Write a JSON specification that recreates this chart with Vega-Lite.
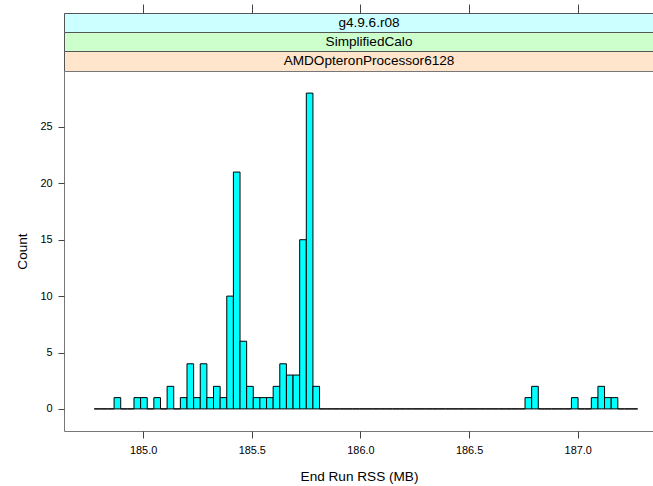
{
  "$schema": "https://vega.github.io/schema/vega-lite/v6.json",
  "padding": {"left": 15, "top": 3, "right": 0, "bottom": 0},
  "background": "white",
  "config": {
    "font": "Liberation Sans",
    "axis": {"grid": false, "domain": false, "tickColor": "#444444", "labelColor": "black", "titleColor": "black", "titleFontWeight": "normal"}
  },
  "spacing": 0,
  "bounds": "flush",
  "vconcat": [
    {
      "width": 590, "height": 19,
      "view": {"fill": "#ccffff", "stroke": "#555555", "strokeWidth": 1},
      "data": {"values": [{"label": "g4.9.6.r08"}]},
      "mark": {"type": "text", "fontSize": 13.6, "color": "black", "dx": 10},
      "encoding": {"text": {"field": "label", "type": "nominal"}}
    },
    {
      "width": 590, "height": 19,
      "view": {"fill": "#ccffcc", "stroke": "#555555", "strokeWidth": 1},
      "data": {"values": [{"label": "SimplifiedCalo"}]},
      "mark": {"type": "text", "fontSize": 13.6, "color": "black", "dx": 10},
      "encoding": {"text": {"field": "label", "type": "nominal"}}
    },
    {
      "width": 590, "height": 20,
      "view": {"fill": "#ffe5cc", "stroke": "#555555", "strokeWidth": 1},
      "data": {"values": [{"label": "AMDOpteronProcessor6128"}]},
      "mark": {"type": "text", "fontSize": 13.6, "color": "black", "dx": 10},
      "encoding": {"text": {"field": "label", "type": "nominal"}}
    },
    {
      "width": 590, "height": 360,
      "view": {"fill": "white", "stroke": "#777777", "strokeWidth": 1},
      "data": {"values": [
        {"start": 184.7750, "end": 184.8055, "count": 0},
        {"start": 184.8055, "end": 184.8360, "count": 0},
        {"start": 184.8360, "end": 184.8665, "count": 0},
        {"start": 184.8665, "end": 184.8970, "count": 1},
        {"start": 184.8970, "end": 184.9275, "count": 0},
        {"start": 184.9275, "end": 184.9580, "count": 0},
        {"start": 184.9580, "end": 184.9885, "count": 1},
        {"start": 184.9885, "end": 185.0190, "count": 1},
        {"start": 185.0190, "end": 185.0495, "count": 0},
        {"start": 185.0495, "end": 185.0800, "count": 1},
        {"start": 185.0800, "end": 185.1105, "count": 0},
        {"start": 185.1105, "end": 185.1410, "count": 2},
        {"start": 185.1410, "end": 185.1715, "count": 0},
        {"start": 185.1715, "end": 185.2020, "count": 1},
        {"start": 185.2020, "end": 185.2325, "count": 4},
        {"start": 185.2325, "end": 185.2630, "count": 1},
        {"start": 185.2630, "end": 185.2935, "count": 4},
        {"start": 185.2935, "end": 185.3240, "count": 1},
        {"start": 185.3240, "end": 185.3545, "count": 2},
        {"start": 185.3545, "end": 185.3850, "count": 1},
        {"start": 185.3850, "end": 185.4155, "count": 10},
        {"start": 185.4155, "end": 185.4460, "count": 21},
        {"start": 185.4460, "end": 185.4765, "count": 6},
        {"start": 185.4765, "end": 185.5070, "count": 2},
        {"start": 185.5070, "end": 185.5375, "count": 1},
        {"start": 185.5375, "end": 185.5680, "count": 1},
        {"start": 185.5680, "end": 185.5985, "count": 1},
        {"start": 185.5985, "end": 185.6290, "count": 2},
        {"start": 185.6290, "end": 185.6595, "count": 4},
        {"start": 185.6595, "end": 185.6900, "count": 3},
        {"start": 185.6900, "end": 185.7205, "count": 3},
        {"start": 185.7205, "end": 185.7510, "count": 15},
        {"start": 185.7510, "end": 185.7815, "count": 28},
        {"start": 185.7815, "end": 185.8120, "count": 2},
        {"start": 185.8120, "end": 185.8425, "count": 0},
        {"start": 185.8425, "end": 185.8730, "count": 0},
        {"start": 185.8730, "end": 185.9035, "count": 0},
        {"start": 185.9035, "end": 185.9340, "count": 0},
        {"start": 185.9340, "end": 185.9645, "count": 0},
        {"start": 185.9645, "end": 185.9950, "count": 0},
        {"start": 185.9950, "end": 186.0255, "count": 0},
        {"start": 186.0255, "end": 186.0560, "count": 0},
        {"start": 186.0560, "end": 186.0865, "count": 0},
        {"start": 186.0865, "end": 186.1170, "count": 0},
        {"start": 186.1170, "end": 186.1475, "count": 0},
        {"start": 186.1475, "end": 186.1780, "count": 0},
        {"start": 186.1780, "end": 186.2085, "count": 0},
        {"start": 186.2085, "end": 186.2390, "count": 0},
        {"start": 186.2390, "end": 186.2695, "count": 0},
        {"start": 186.2695, "end": 186.3000, "count": 0},
        {"start": 186.3000, "end": 186.3305, "count": 0},
        {"start": 186.3305, "end": 186.3610, "count": 0},
        {"start": 186.3610, "end": 186.3915, "count": 0},
        {"start": 186.3915, "end": 186.4220, "count": 0},
        {"start": 186.4220, "end": 186.4525, "count": 0},
        {"start": 186.4525, "end": 186.4830, "count": 0},
        {"start": 186.4830, "end": 186.5135, "count": 0},
        {"start": 186.5135, "end": 186.5440, "count": 0},
        {"start": 186.5440, "end": 186.5745, "count": 0},
        {"start": 186.5745, "end": 186.6050, "count": 0},
        {"start": 186.6050, "end": 186.6355, "count": 0},
        {"start": 186.6355, "end": 186.6660, "count": 0},
        {"start": 186.6660, "end": 186.6965, "count": 0},
        {"start": 186.6965, "end": 186.7270, "count": 0},
        {"start": 186.7270, "end": 186.7575, "count": 0},
        {"start": 186.7575, "end": 186.7880, "count": 1},
        {"start": 186.7880, "end": 186.8185, "count": 2},
        {"start": 186.8185, "end": 186.8490, "count": 0},
        {"start": 186.8490, "end": 186.8795, "count": 0},
        {"start": 186.8795, "end": 186.9100, "count": 0},
        {"start": 186.9100, "end": 186.9405, "count": 0},
        {"start": 186.9405, "end": 186.9710, "count": 0},
        {"start": 186.9710, "end": 187.0015, "count": 1},
        {"start": 187.0015, "end": 187.0320, "count": 0},
        {"start": 187.0320, "end": 187.0625, "count": 0},
        {"start": 187.0625, "end": 187.0930, "count": 1},
        {"start": 187.0930, "end": 187.1235, "count": 2},
        {"start": 187.1235, "end": 187.1540, "count": 1},
        {"start": 187.1540, "end": 187.1845, "count": 1},
        {"start": 187.1845, "end": 187.2150, "count": 0},
        {"start": 187.2150, "end": 187.2455, "count": 0},
        {"start": 187.2455, "end": 187.2760, "count": 0}
      ]},
      "layer": [
        {
          "mark": {"type": "rect", "fill": "#00ffff", "stroke": "black", "strokeWidth": 1},
          "encoding": {
            "x": {"field": "start", "type": "quantitative",
                  "scale": {"domain": [184.636, 187.351], "nice": false, "zero": false},
                  "axis": {"orient": "bottom", "values": [185, 185.5, 186, 186.5, 187], "format": ".1f",
                           "tickSize": 7, "labelPadding": 6, "labelFontSize": 10.9,
                           "title": "End Run RSS (MB)", "titleFontSize": 13.6, "titlePadding": 15}},
            "x2": {"field": "end"},
            "y": {"field": "count", "type": "quantitative",
                  "scale": {"domain": [-1.96, 29.96], "nice": false, "zero": false},
                  "axis": {"values": [0, 5, 10, 15, 20, 25], "tickSize": 6, "labelPadding": 6, "labelFontSize": 10.9,
                           "title": "Count", "titleFontSize": 13.6, "titlePadding": 10}},
            "y2": {"datum": 0}
          }
        },
        {
          "mark": {"type": "point", "opacity": 0},
          "encoding": {
            "x": {"field": "start", "type": "quantitative",
                  "scale": {"domain": [184.636, 187.351], "nice": false, "zero": false},
                  "axis": {"orient": "top", "offset": 58, "labels": false, "tickSize": 9,
                           "values": [185, 185.5, 186, 186.5, 187], "title": null}}
          }
        }
      ],
      "resolve": {"axis": {"x": "independent"}}
    }
  ]
}
